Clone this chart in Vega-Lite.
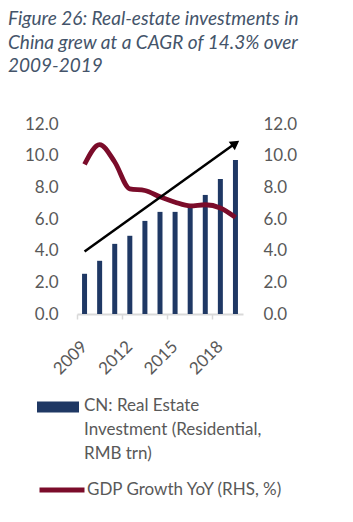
{
  "$schema": "https://vega.github.io/schema/vega-lite/v6.json",
  "autosize": "none",
  "width": 166,
  "height": 190,
  "padding": {"left": 77, "top": 124, "right": 110, "bottom": 208},
  "background": "white",
  "config": {"font": "Lato", "view": {"stroke": null}},
  "title": {
    "text": ["Figure 26: Real-estate investments in", "China grew at a CAGR of 14.3% over", "2009-2019"],
    "anchor": "start",
    "frame": "group",
    "dx": -69,
    "font": "Lato",
    "fontStyle": "italic",
    "fontWeight": "normal",
    "fontSize": 19,
    "lineHeight": 23.3,
    "color": "#44546A",
    "offset": 39
  },
  "datasets": {
    "main": [
      {"year": "2009", "investment": 2.54, "gdp": 9.45},
      {"year": "2010", "investment": 3.36, "gdp": 10.7},
      {"year": "2011", "investment": 4.43, "gdp": 9.6},
      {"year": "2012", "investment": 4.94, "gdp": 7.9},
      {"year": "2013", "investment": 5.88, "gdp": 7.8},
      {"year": "2014", "investment": 6.45, "gdp": 7.4},
      {"year": "2015", "investment": 6.45, "gdp": 7.06},
      {"year": "2016", "investment": 6.79, "gdp": 6.83},
      {"year": "2017", "investment": 7.52, "gdp": 6.9},
      {"year": "2018", "investment": 8.53, "gdp": 6.7},
      {"year": "2019", "investment": 9.73, "gdp": 6.1}
    ],
    "arrow": [
      {"start_year": "2009", "end_year": "2019", "start_value": 3.95, "end_value": 10.78}
    ]
  },
  "layer": [
    {
      "data": {"name": "main"},
      "mark": {"type": "bar", "size": 5},
      "encoding": {
        "x": {
          "field": "year", "type": "nominal",
          "scale": {"paddingInner": 0, "paddingOuter": 0},
          "axis": {
            "title": null,
            "values": ["2009", "2012", "2015", "2018"],
            "bandPosition": 0,
            "labelOffset": -5.5,
            "labelAngle": -45,
            "labelFontSize": 17,
            "labelColor": "#595959",
            "labelPadding": 19,
            "tickSize": 5,
            "tickColor": "#d9d9d9",
            "tickWidth": 1.5,
            "domainColor": "#d9d9d9",
            "domainWidth": 2
          }
        },
        "y": {
          "field": "investment", "type": "quantitative",
          "scale": {"domain": [0, 12]},
          "axis": {
            "title": null, "orient": "left",
            "values": [0, 2, 4, 6, 8, 10, 12],
            "format": ".1f",
            "domain": false, "ticks": false, "grid": false,
            "labelPadding": 19,
            "labelFontSize": 17,
            "labelColor": "#595959"
          }
        },
        "color": {
          "datum": "CN: Real Estate Investment (Residential, RMB trn)",
          "type": "nominal",
          "scale": {"range": ["#1F3864"]},
          "legend": {
            "title": null,
            "orient": "none",
            "legendX": -40,
            "legendY": 262,
            "symbolType": "M-1,-0.262H1V0.262H-1Z",
            "symbolSize": 1764,
            "symbolStrokeWidth": 0,
            "labelFontSize": 17,
            "labelColor": "#595959",
            "labelLimit": 400,
            "labelOffset": 5,
            "labelExpr": "datum.label == 'CN: Real Estate Investment (Residential, RMB trn)' ? ['CN: Real Estate', 'Investment (Residential,', 'RMB trn)'] : datum.label",
            "labelBaseline": "top",
            "encode": {"labels": {"update": {"dy": {"value": -9}, "lineHeight": {"value": 24}}}}
          }
        }
      }
    },
    {
      "data": {"name": "main"},
      "mark": {"type": "line", "strokeWidth": 4.8, "interpolate": "monotone"},
      "encoding": {
        "x": {"field": "year", "type": "nominal"},
        "y": {
          "field": "gdp", "type": "quantitative",
          "scale": {"domain": [0, 12]},
          "axis": {
            "title": null, "orient": "right",
            "values": [0, 2, 4, 6, 8, 10, 12],
            "format": ".1f",
            "domain": false, "ticks": false, "grid": false,
            "labelPadding": 20,
            "labelFontSize": 17,
            "labelColor": "#595959"
          }
        },
        "stroke": {
          "datum": "GDP Growth YoY (RHS, %)",
          "type": "nominal",
          "scale": {"range": ["#7B0C2A"]},
          "legend": {
            "title": null,
            "orient": "none",
            "legendX": -40,
            "legendY": 341,
            "symbolType": "stroke",
            "symbolSize": 2025,
            "symbolStrokeWidth": 5,
            "labelFontSize": 17,
            "labelColor": "#595959",
            "labelLimit": 400,
            "labelOffset": 0
          }
        }
      }
    },
    {
      "data": {"name": "arrow"},
      "mark": {"type": "rule", "color": "black", "strokeWidth": 2.5},
      "encoding": {
        "x": {"field": "start_year", "type": "nominal"},
        "x2": {"field": "end_year"},
        "y": {"field": "start_value", "type": "quantitative", "scale": {"domain": [0, 12]}, "axis": null},
        "y2": {"field": "end_value"}
      }
    },
    {
      "data": {"name": "arrow"},
      "mark": {"type": "point", "shape": "triangle-up", "filled": true, "color": "black", "size": 110, "angle": 54.5, "opacity": 1},
      "encoding": {
        "x": {"field": "end_year", "type": "nominal"},
        "y": {"field": "end_value", "type": "quantitative", "scale": {"domain": [0, 12]}, "axis": null}
      }
    }
  ],
  "resolve": {"scale": {"y": "independent"}}
}
